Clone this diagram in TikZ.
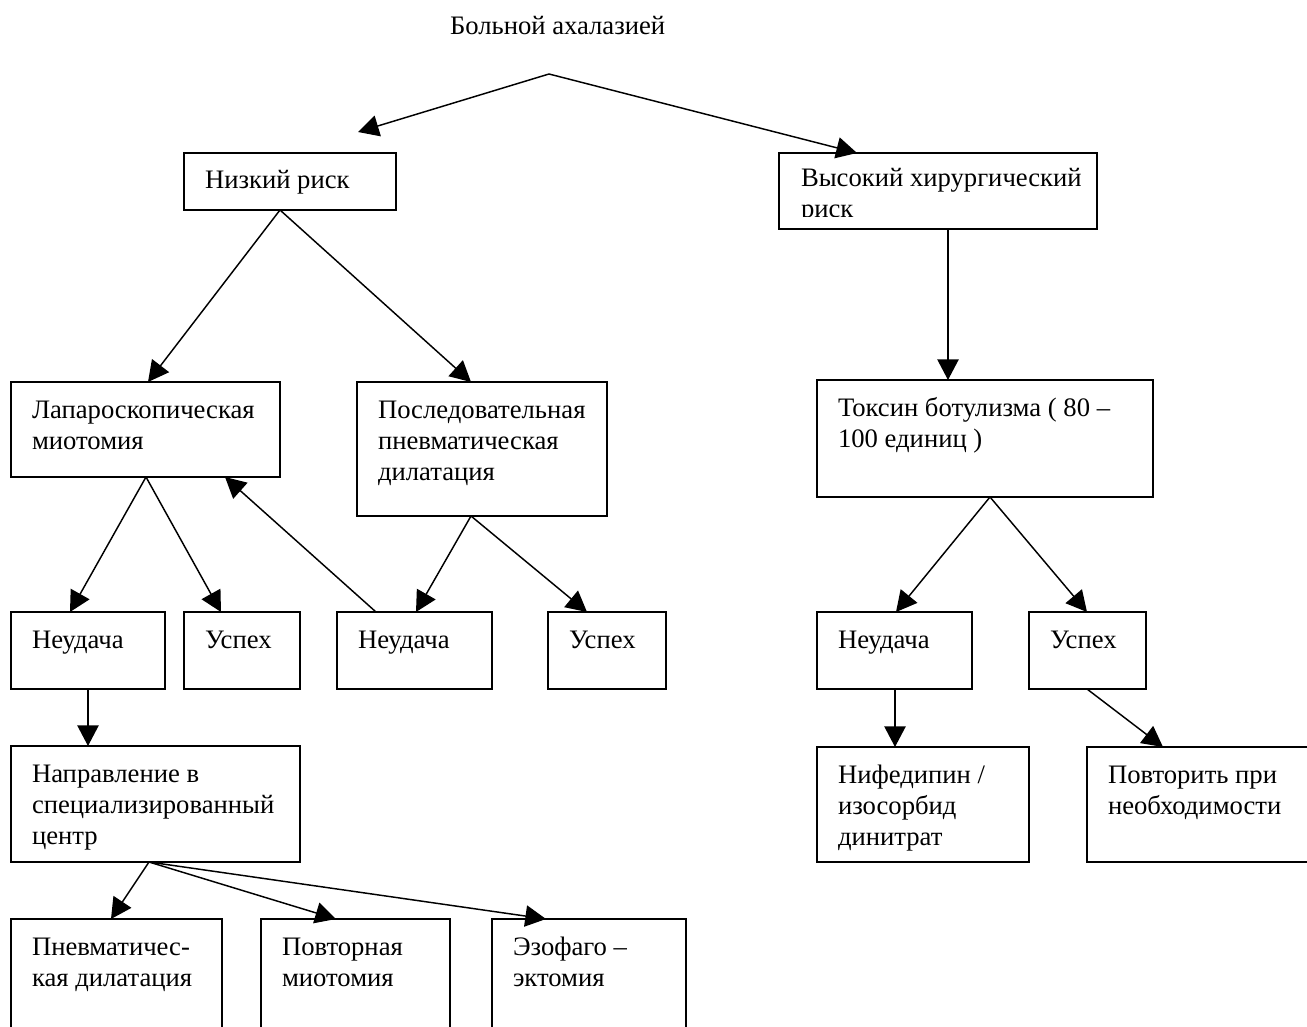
\documentclass[tikz,border=0pt]{standalone}
\usepackage{fontspec}
\setmainfont{Liberation Serif}
\usetikzlibrary{arrows.meta,calc,fit}
\tikzset{
  box/.style={draw=black, line width=1.1pt, inner sep=0pt, outer sep=0pt, rectangle},
  txt/.style={inner sep=0pt, outer sep=0pt, font=\fontsize{20}{23.25}\selectfont},
  arr/.style={line width=1.1pt, -{Triangle[length=15.5pt,width=16pt]}},
}
\newcommand\mkbox[6]{%
  \node[box, fit={(#2,#3)(#4,#5)}] (#1) {};
  \node[txt, anchor=base west] (#1-t) at ($(#1.north west)+(21,36)$) {\begin{tabular}[t]{@{}l@{}}#6\end{tabular}};
}
\begin{document}
\begin{tikzpicture}[x=0.75pt,y=-0.75pt]
\clip (0,0) rectangle (1307,1027);
\fill[white] (0,0) rectangle (1307,1027);

\node[txt, anchor=base west] (title) at (450,35) {Больной ахалазией};
\coordinate (apex) at (549,74);
\coordinate (loin) at (358,132);

\mkbox{lo}{184}{153}{396}{210}{Низкий риск}
\node[box, fit={(779,153)(1097,229)}] (hi) {};
\begin{scope}
  \clip (779,153) rectangle (1097,217);
  \node[txt, anchor=base west] (hi-t) at ($(hi.north west)+(22,34)$) {\begin{tabular}[t]{@{}l@{}}Высокий хирургический\\риск\end{tabular}};
\end{scope}

\mkbox{lap}{11}{382}{280}{477}{Лапароскопическая\\миотомия}
\mkbox{seq}{357}{382}{607}{516}{Последовательная\\пневматическая\\дилатация}
\mkbox{tox}{817}{380}{1153}{497}{Токсин ботулизма ( 80 –\\100 единиц )}

\mkbox{fa}{11}{612}{165}{689}{Неудача}
\mkbox{sa}{184}{612}{300}{689}{Успех}
\mkbox{fb}{337}{612}{492}{689}{Неудача}
\mkbox{sb}{548}{612}{666}{689}{Успех}
\mkbox{fc}{817}{612}{972}{689}{Неудача}
\mkbox{sc}{1029}{612}{1146}{689}{Успех}

\mkbox{ref}{11}{746}{300}{862}{Направление в\\специализированный\\центр}
\mkbox{nif}{817}{747}{1029}{862}{Нифедипин /\\изосорбид\\динитрат}
\mkbox{rep}{1087}{747}{1340}{862}{Повторить при\\необходимости}

\mkbox{pd}{11}{919}{222}{1060}{Пневматичес-\\кая дилатация}
\mkbox{rm}{261}{919}{450}{1060}{Повторная\\миотомия}
\mkbox{ez}{492}{919}{686}{1060}{Эзофаго –\\эктомия}

% connectors
\draw[arr] (apex) -- (loin);
\draw[arr] (apex) -- ($(hi.north west)+(78,0)$);
\draw[arr] ($(lo.south west)+(96,0)$) -- ($(lap.north west)+(137,0)$);
\draw[arr] ($(lo.south west)+(96,0)$) -- ($(seq.north west)+(114,0)$);
\draw[arr] ($(lap.south west)+(135,0)$) -- ($(fa.north west)+(59,0)$);
\draw[arr] ($(lap.south west)+(135,0)$) -- ($(sa.north west)+(37,0)$);
\draw[arr] ($(fb.north west)+(39,0)$) -- ($(lap.south west)+(214,0)$);
\draw[arr] ($(seq.south west)+(114,0)$) -- ($(fb.north west)+(79,0)$);
\draw[arr] ($(seq.south west)+(114,0)$) -- ($(sb.north west)+(39,0)$);
\draw[arr] ($(fa.south west)+(77,0)$) -- ($(ref.north west)+(77,0)$);
\draw[arr] ($(ref.south west)+(138,0)$) -- ($(pd.north west)+(100,0)$);
\draw[arr] ($(ref.south west)+(138,0)$) -- ($(rm.north west)+(75,0)$);
\draw[arr] ($(ref.south west)+(138,0)$) -- ($(ez.north west)+(54,0)$);
\draw[arr] ($(hi.south west)+(169,0)$) -- ($(tox.north west)+(131,0)$);
\draw[arr] ($(tox.south west)+(173,0)$) -- ($(fc.north west)+(79,0)$);
\draw[arr] ($(tox.south west)+(173,0)$) -- ($(sc.north west)+(58,0)$);
\draw[arr] ($(fc.south west)+(78,0)$) -- ($(nif.north west)+(78,0)$);
\draw[arr] ($(sc.south west)+(58,0)$) -- ($(rep.north west)+(76,0)$);
\end{tikzpicture}
\end{document}
